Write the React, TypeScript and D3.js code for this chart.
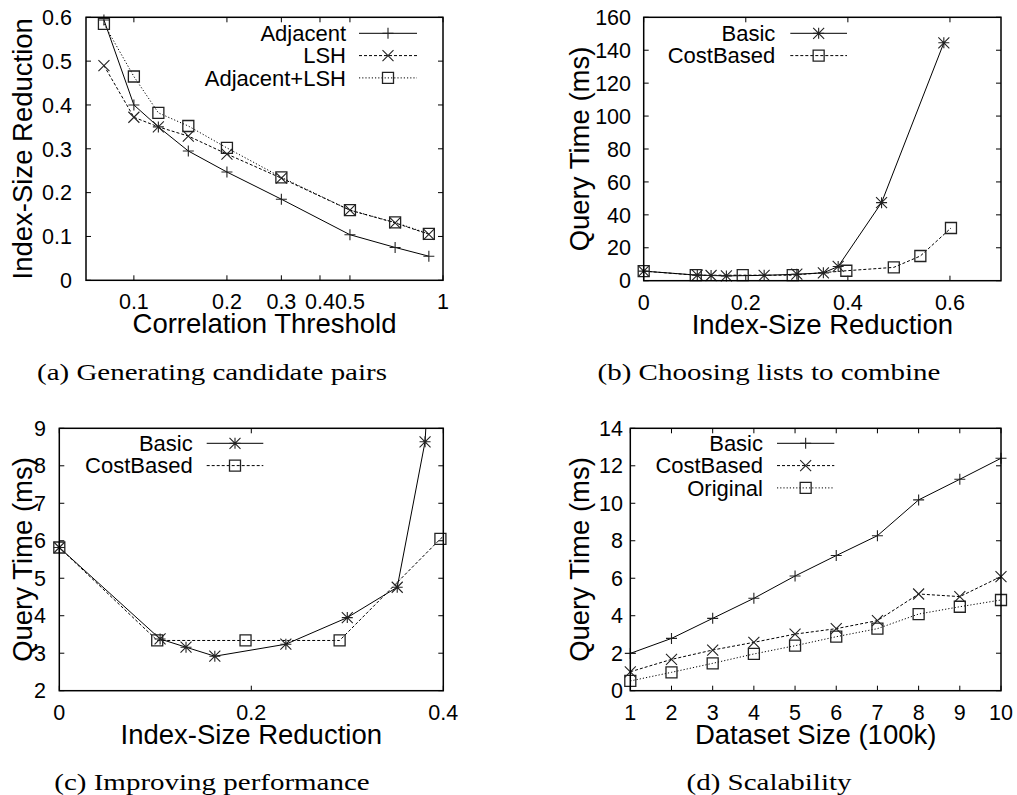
import React from 'react';
import * as d3 from 'd3';

// (a) generating candidate pairs
const thresholds = [0.08, 0.1, 0.12, 0.15, 0.2, 0.3, 0.5, 0.7, 0.9];
const adjacentReduction = [0.594, 0.4, 0.35, 0.295, 0.247, 0.185, 0.104, 0.075, 0.055];
const lshReduction = [0.49, 0.372, 0.35, 0.329, 0.288, 0.233, 0.16, 0.131, 0.105];
const adjacentLshReduction = [0.585, 0.465, 0.382, 0.352, 0.302, 0.235, 0.16, 0.132, 0.106];
const thresholdTicks = [0.1, 0.2, 0.3, 0.4, 0.5, 1];
const reductionTicksA = [0, 0.1, 0.2, 0.3, 0.4, 0.5, 0.6];

// (b) + (c) choosing lists to combine / improving performance
const basicReduction = [0, 0.105, 0.132, 0.162, 0.236, 0.3, 0.352, 0.381, 0.466, 0.588];
const basicTime = [5.82, 3.38, 3.16, 2.92, 3.24, 3.95, 4.76, 8.64, 47.4, 144.5];
const costReduction = [0, 0.102, 0.194, 0.292, 0.397, 0.49, 0.542, 0.602];
const costTime = [5.82, 3.34, 3.34, 3.34, 6.05, 8.1, 15, 32];
const timeTicksB = [0, 20, 40, 60, 80, 100, 120, 140, 160];
const reductionTicksB = [0, 0.2, 0.4, 0.6];
const timeTicksC = [2, 3, 4, 5, 6, 7, 8, 9];
const reductionTicksC = [0, 0.2, 0.4];

// (d) scalability
const datasetSizes = [1, 2, 3, 4, 5, 6, 7, 8, 9, 10];
const basicScaleTime = [1.99, 2.79, 3.86, 4.93, 6.12, 7.21, 8.27, 10.18, 11.28, 12.4];
const costScaleTime = [1.01, 1.67, 2.17, 2.58, 3.02, 3.31, 3.74, 5.16, 5.02, 6.09];
const originalScaleTime = [0.52, 0.98, 1.46, 1.96, 2.4, 2.88, 3.31, 4.09, 4.48, 4.84];
const timeTicksD = [0, 2, 4, 6, 8, 10, 12, 14];

const SANS = '"Liberation Sans", Arial, Helvetica, sans-serif';
const SERIF = '"Liberation Serif", "Times New Roman", serif';
const TICK_FONT = 21.5;
const LABEL_FONT = 27.5;

const markerPath = (type, s = 5.5) => {
  const plus = `M${-s},0H${s}M0,${-s}V${s}`;
  const cross = `M${-s},${-s}L${s},${s}M${-s},${s}L${s},${-s}`;
  if (type === 'plus') return plus;
  if (type === 'cross') return cross;
  if (type === 'star') return plus + cross;
  return `M${-s},${-s}H${s}V${s}H${-s}Z`;
};

const dashFor = style => (style === 'dashed' ? '3,2' : style === 'dotted' ? '1.2,2' : null);

const Marker = ({ type, x, y }) => (
  <path
    d={ markerPath(type) }
    transform={ `translate(${x},${y})` }
    fill="none"
    stroke="#222"
    strokeWidth={ type === 'square' ? 1.3 : 1.1 } />
);

const Panel = ({ id, box, x, y, xTicks, yTicks, series, xLabel, yLabel, yLabelX, tickRight, legend }) => {
  const { left, right, top, bottom } = box;
  const line = d3.line().x(d => x(d[0])).y(d => y(d[1]));
  const [x0, x1] = x.domain();
  const [y0, y1] = y.domain();
  const inside = (a, b) => a >= x0 - 1e-9 && a <= x1 + 1e-9 && b >= y0 - 1e-9 && b <= y1 + 1e-9;

  return (
    <g>
      <clipPath id={ `clip-${id}` }>
        <rect x={ left } y={ top } width={ right - left } height={ bottom - top } />
      </clipPath>

      { xTicks.map(t => (
        <g key={ `xt${t}` }>
          <line x1={ x(t) } x2={ x(t) } y1={ bottom } y2={ bottom - 5 } stroke="#000" />
          <line x1={ x(t) } x2={ x(t) } y1={ top } y2={ top + 5 } stroke="#000" />
          <text x={ x(t) } y={ bottom + 29 } textAnchor="middle" fontSize={ TICK_FONT }>{ String(t) }</text>
        </g>
      )) }
      { yTicks.map(t => (
        <g key={ `yt${t}` }>
          <line x1={ left } x2={ left + 5 } y1={ y(t) } y2={ y(t) } stroke="#000" />
          <line x1={ right } x2={ right - 5 } y1={ y(t) } y2={ y(t) } stroke="#000" />
          <text x={ tickRight } y={ y(t) + 7.7 } textAnchor="end" fontSize={ TICK_FONT }>{ String(t) }</text>
        </g>
      )) }

      <g clipPath={ `url(#clip-${id})` }>
        { series.map(s => (
          <path
            key={ s.name }
            d={ line(s.xs.map((v, i) => [v, s.ys[i]])) }
            fill="none"
            stroke="#000"
            strokeWidth={ 1 }
            strokeDasharray={ dashFor(s.style) } />
        )) }
      </g>
      { series.map(s => s.xs.map((v, i) => inside(v, s.ys[i])
        ? <Marker key={ `${s.name}${i}` } type={ s.marker } x={ x(v) } y={ y(s.ys[i]) } />
        : null)) }

      <rect x={ left } y={ top } width={ right - left } height={ bottom - top } fill="none" stroke="#000" strokeWidth={ 1.5 } />

      { series.map((s, i) => {
        const ly = legend.y + i * 22.3;
        return (
          <g key={ `lg${s.name}` }>
            <text x={ legend.textRight } y={ ly + 7.6 } textAnchor="end" fontSize={ 22 }>{ s.name }</text>
            <line x1={ legend.x1 } x2={ legend.x2 } y1={ ly } y2={ ly } stroke="#000" strokeDasharray={ dashFor(s.style) } />
            <Marker type={ s.marker } x={ (legend.x1 + legend.x2) / 2 } y={ ly } />
          </g>
        );
      }) }

      <text x={ (left + right) / 2 } y={ bottom + 53 } textAnchor="middle" fontSize={ LABEL_FONT }>{ xLabel }</text>
      <text
        transform={ `translate(${yLabelX},${(top + bottom) / 2}) rotate(-90)` }
        textAnchor="middle"
        fontSize={ LABEL_FONT }>
        { yLabel }
      </text>
    </g>
  );
};

const Caption = ({ cx, y, text }) => (
  <text
    transform={ `translate(${cx},${y}) scale(1.26,1)` }
    textAnchor="middle"
    fontFamily={ SERIF }
    fontSize={ 23 }>
    { text }
  </text>
);

export default function App() {
  const boxA = { left: 86, right: 443, top: 17.3, bottom: 280.3 };
  const boxB = { left: 643.7, right: 1001, top: 17.3, bottom: 280.7 };
  const boxC = { left: 59.3, right: 443.3, top: 428.3, bottom: 690.7 };
  const boxD = { left: 630.3, right: 1001, top: 428.3, bottom: 690.7 };

  const xA = d3.scaleLog().domain([0.07, 1]).range([boxA.left, boxA.right]);
  const yA = d3.scaleLinear().domain([0, 0.6]).range([boxA.bottom, boxA.top]);
  const xB = d3.scaleLinear().domain([0, 0.7]).range([boxB.left, boxB.right]);
  const yB = d3.scaleLinear().domain([0, 160]).range([boxB.bottom, boxB.top]);
  const xC = d3.scaleLinear().domain([0, 0.4]).range([boxC.left, boxC.right]);
  const yC = d3.scaleLinear().domain([2, 9]).range([boxC.bottom, boxC.top]);
  const xD = d3.scaleLinear().domain([1, 10]).range([boxD.left, boxD.right]);
  const yD = d3.scaleLinear().domain([0, 14]).range([boxD.bottom, boxD.top]);

  const seriesA = [
    { name: 'Adjacent', xs: thresholds, ys: adjacentReduction, marker: 'plus', style: 'solid' },
    { name: 'LSH', xs: thresholds, ys: lshReduction, marker: 'cross', style: 'dashed' },
    { name: 'Adjacent+LSH', xs: thresholds, ys: adjacentLshReduction, marker: 'square', style: 'dotted' },
  ];
  const seriesBC = [
    { name: 'Basic', xs: basicReduction, ys: basicTime, marker: 'star', style: 'solid' },
    { name: 'CostBased', xs: costReduction, ys: costTime, marker: 'square', style: 'dashed' },
  ];
  const seriesD = [
    { name: 'Basic', xs: datasetSizes, ys: basicScaleTime, marker: 'plus', style: 'solid' },
    { name: 'CostBased', xs: datasetSizes, ys: costScaleTime, marker: 'cross', style: 'dashed' },
    { name: 'Original', xs: datasetSizes, ys: originalScaleTime, marker: 'square', style: 'dotted' },
  ];

  return (
    <div>
      <style>{ 'body{margin:0;background:#fff}' }</style>
      <svg width={ 1017 } height={ 795 } fontFamily={ SANS } style={ { display: 'block' } }>
        <rect width={ 1017 } height={ 795 } fill="#fff" />
        <Panel
          id="a" box={ boxA } x={ xA } y={ yA }
          xTicks={ thresholdTicks } yTicks={ reductionTicksA } series={ seriesA }
          xLabel="Correlation Threshold" yLabel="Index-Size Reduction"
          yLabelX={ 32 } tickRight={ 72 }
          legend={ { textRight: 346, x1: 359, x2: 417, y: 33.3 } } />
        <Panel
          id="b" box={ boxB } x={ xB } y={ yB }
          xTicks={ reductionTicksB } yTicks={ timeTicksB } series={ seriesBC }
          xLabel="Index-Size Reduction" yLabel="Query Time (ms)"
          yLabelX={ 588.7 } tickRight={ 631 }
          legend={ { textRight: 775.3, x1: 790.3, x2: 847, y: 33.3 } } />
        <Panel
          id="c" box={ boxC } x={ xC } y={ yC }
          xTicks={ reductionTicksC } yTicks={ timeTicksC } series={ seriesBC }
          xLabel="Index-Size Reduction" yLabel="Query Time (ms)"
          yLabelX={ 31.5 } tickRight={ 46 }
          legend={ { textRight: 192.7, x1: 206.7, x2: 263.3, y: 443.3 } } />
        <Panel
          id="d" box={ boxD } x={ xD } y={ yD }
          xTicks={ datasetSizes } yTicks={ timeTicksD } series={ seriesD }
          xLabel="Dataset Size (100k)" yLabel="Query Time (ms)"
          yLabelX={ 588.7 } tickRight={ 623 }
          legend={ { textRight: 763, x1: 777, x2: 834.3, y: 443.3 } } />

        <Caption cx={ 212 } y={ 380 } text="(a) Generating candidate pairs" />
        <Caption cx={ 769 } y={ 380 } text="(b) Choosing lists to combine" />
        <Caption cx={ 212 } y={ 790 } text="(c) Improving performance" />
        <Caption cx={ 769 } y={ 790 } text="(d) Scalability" />
      </svg>
    </div>
  );
}
